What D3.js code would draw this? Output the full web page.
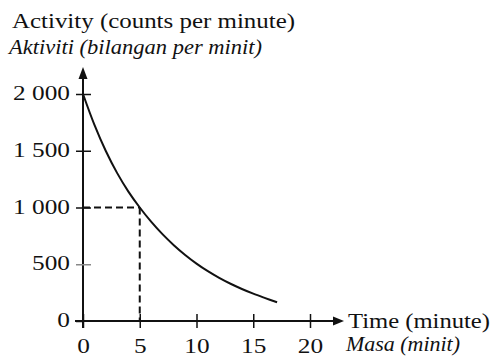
<!DOCTYPE html>
<html>
<head>
<meta charset="utf-8">
<script src="https://cdn.jsdelivr.net/npm/d3@7"></script>
<style>
  html, body { margin: 0; padding: 0; background: #fff; }
  svg { display: block; }
  text { font-family: "Liberation Serif", serif; fill: #111; }
</style>
</head>
<body>
<svg id="chart" width="493" height="358"></svg>
<script>
// ---- data ----
const timeTicks = [0, 5, 10, 15, 20];
const timeTickLabels = ["0", "5", "10", "15", "20"];
const activityTicks = [0, 500, 1000, 1500, 2000];
const activityTickLabels = ["0", "500", "1 000", "1 500", "2 000"];
const curveTime = [0, 1, 2, 3, 4, 5, 6, 7, 8, 9, 10, 11, 12, 13, 14, 15, 16, 17.1];
const curveActivity = [2000, 1730, 1500, 1305, 1140, 1000, 875, 765, 668, 582, 506, 439, 380, 328, 282, 241, 204, 165];
const halfLifeTime = [5];
const halfLifeActivity = [1000];
const yTitle = "Activity (counts per minute)";
const yTitleMalay = "Aktiviti (bilangan per minit)";
const xTitle = "Time (minute)";
const xTitleMalay = "Masa (minit)";

// ---- layout ----
const svg = d3.select("#chart");
const x = d3.scaleLinear().domain([0, 20]).range([83, 310]);
const y = d3.scaleLinear().domain([0, 2000]).range([321, 94]);
const ink = "#111";
const sx = 1.15;
const serif = '"Liberation Serif", serif';

// axes lines
svg.append("line").attr("x1", x(0)).attr("x2", x(0)).attr("y1", y(0) + 7).attr("y2", 76)
  .attr("stroke", ink).attr("stroke-width", 2);
svg.append("path").attr("d", `M${x(0)},67 L${x(0) - 4.5},79 L${x(0) + 4.5},79 Z`).attr("fill", ink);
svg.append("line").attr("x1", x(0) - 8).attr("x2", 336).attr("y1", y(0)).attr("y2", y(0))
  .attr("stroke", ink).attr("stroke-width", 2);
svg.append("path").attr("d", `M344,${y(0)} L333,${y(0) - 4.5} L333,${y(0) + 4.5} Z`).attr("fill", ink);

// x ticks via axis
const gx = svg.append("g").attr("transform", `translate(0,${y(0)})`)
  .call(d3.axisBottom(x).tickValues(timeTicks).tickSize(7).tickFormat((d, i) => timeTickLabels[i]));
gx.select(".domain").remove();
gx.selectAll(".tick line").attr("y1", -7).attr("y2", 7).attr("stroke", ink).attr("stroke-width", 1.5);
gx.selectAll(".tick text").attr("y", null).attr("dy", null)
  .attr("transform", `translate(0,32) scale(${sx},1)`)
  .attr("font-size", 22).attr("text-anchor", "middle").attr("fill", ink)
  .attr("font-family", serif).style("font-family", serif);

// y ticks via axis
const gy = svg.append("g").attr("transform", `translate(${x(0)},0)`)
  .call(d3.axisLeft(y).tickValues(activityTicks).tickSize(7).tickFormat((d, i) => activityTickLabels[i]));
gy.select(".domain").remove();
gy.selectAll(".tick line").attr("x1", -7).attr("x2", 8)
  .attr("stroke", d => d === 500 ? "#888" : ink).attr("stroke-width", 1.5);
gy.selectAll(".tick text").attr("x", null).attr("dy", null)
  .attr("transform", `translate(-13,5.5) scale(${sx},1)`)
  .attr("font-size", 22).attr("text-anchor", "end").attr("fill", ink)
  .attr("font-family", serif).style("font-family", serif);
gy.selectAll(".tick").filter(d => d === 0).select("line").attr("x2", 0);

// dashed half-life guides
halfLifeTime.forEach((t, i) => {
  const a = halfLifeActivity[i];
  svg.append("line").attr("x1", x(0)).attr("x2", x(t)).attr("y1", y(a)).attr("y2", y(a))
    .attr("stroke", ink).attr("stroke-width", 2).attr("stroke-dasharray", "7,4");
  svg.append("line").attr("x1", x(t)).attr("x2", x(t)).attr("y1", y(a)).attr("y2", y(0))
    .attr("stroke", ink).attr("stroke-width", 2).attr("stroke-dasharray", "7,4");
});

// decay curve
const pts = curveTime.map((t, i) => [t, curveActivity[i]]);
svg.append("path").datum(pts)
  .attr("d", d3.line().x(d => x(d[0])).y(d => y(d[1])).curve(d3.curveCatmullRom.alpha(0.5)))
  .attr("fill", "none").attr("stroke", ink).attr("stroke-width", 2);

// titles
svg.append("text").attr("x", 12).attr("y", 28).attr("font-size", 22).attr("font-family", serif)
  .attr("textLength", 283).attr("lengthAdjust", "spacingAndGlyphs").text(yTitle);
svg.append("text").attr("x", 9).attr("y", 54).attr("font-size", 20).attr("font-style", "italic").attr("font-family", serif)
  .attr("textLength", 253).attr("lengthAdjust", "spacingAndGlyphs").text(yTitleMalay);
svg.append("text").attr("x", 348).attr("y", 328).attr("font-size", 22).attr("font-family", serif)
  .attr("textLength", 142).attr("lengthAdjust", "spacingAndGlyphs").text(xTitle);
svg.append("text").attr("x", 346).attr("y", 351).attr("font-size", 20).attr("font-style", "italic").attr("font-family", serif)
  .attr("textLength", 114).attr("lengthAdjust", "spacingAndGlyphs").text(xTitleMalay);
</script>
</body>
</html>
